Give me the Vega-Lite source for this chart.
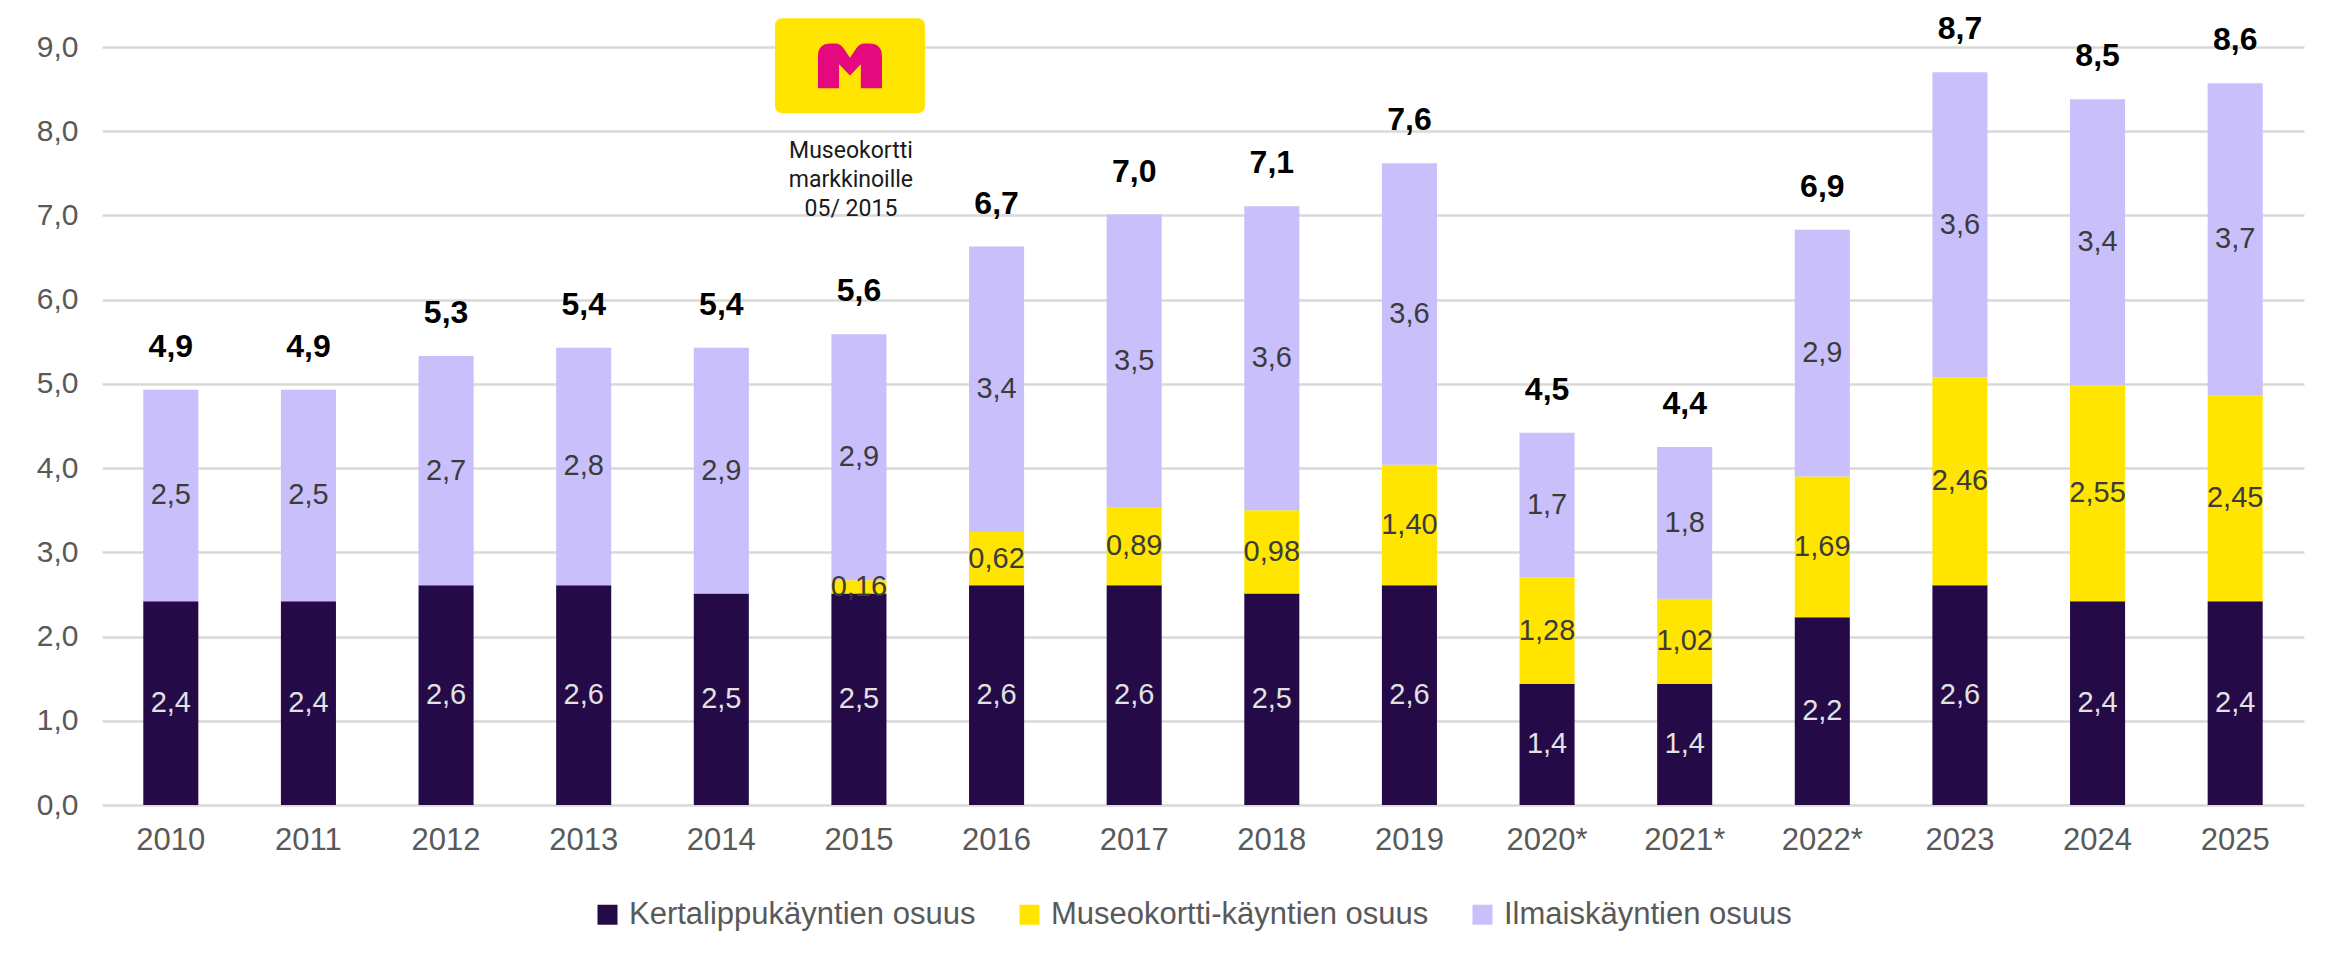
{
  "$schema": "https://vega.github.io/schema/vega-lite/v6.json",
  "width": 2202,
  "height": 758,
  "autosize": {"type": "none"},
  "padding": {"left": 102, "top": 47, "right": 42, "bottom": 157},
  "background": "white",
  "config": {"view": {"stroke": null}, "font": "Liberation Sans"},
  "datasets": {
    "parts": [
      {"year": "2010", "series": "Kertalippukäyntien osuus", "order": 1, "value": 2.42, "label": "2,4"},
      {"year": "2010", "series": "Ilmaiskäyntien osuus", "order": 3, "value": 2.51, "label": "2,5"},
      {"year": "2011", "series": "Kertalippukäyntien osuus", "order": 1, "value": 2.42, "label": "2,4"},
      {"year": "2011", "series": "Ilmaiskäyntien osuus", "order": 3, "value": 2.51, "label": "2,5"},
      {"year": "2012", "series": "Kertalippukäyntien osuus", "order": 1, "value": 2.61, "label": "2,6"},
      {"year": "2012", "series": "Ilmaiskäyntien osuus", "order": 3, "value": 2.72, "label": "2,7"},
      {"year": "2013", "series": "Kertalippukäyntien osuus", "order": 1, "value": 2.61, "label": "2,6"},
      {"year": "2013", "series": "Ilmaiskäyntien osuus", "order": 3, "value": 2.82, "label": "2,8"},
      {"year": "2014", "series": "Kertalippukäyntien osuus", "order": 1, "value": 2.51, "label": "2,5"},
      {"year": "2014", "series": "Ilmaiskäyntien osuus", "order": 3, "value": 2.92, "label": "2,9"},
      {"year": "2015", "series": "Kertalippukäyntien osuus", "order": 1, "value": 2.51, "label": "2,5"},
      {"year": "2015", "series": "Museokortti-käyntien osuus", "order": 2, "value": 0.16, "label": "0,16"},
      {"year": "2015", "series": "Ilmaiskäyntien osuus", "order": 3, "value": 2.92, "label": "2,9"},
      {"year": "2016", "series": "Kertalippukäyntien osuus", "order": 1, "value": 2.61, "label": "2,6"},
      {"year": "2016", "series": "Museokortti-käyntien osuus", "order": 2, "value": 0.63, "label": "0,62"},
      {"year": "2016", "series": "Ilmaiskäyntien osuus", "order": 3, "value": 3.39, "label": "3,4"},
      {"year": "2017", "series": "Kertalippukäyntien osuus", "order": 1, "value": 2.61, "label": "2,6"},
      {"year": "2017", "series": "Museokortti-käyntien osuus", "order": 2, "value": 0.92, "label": "0,89"},
      {"year": "2017", "series": "Ilmaiskäyntien osuus", "order": 3, "value": 3.48, "label": "3,5"},
      {"year": "2018", "series": "Kertalippukäyntien osuus", "order": 1, "value": 2.51, "label": "2,5"},
      {"year": "2018", "series": "Museokortti-käyntien osuus", "order": 2, "value": 0.99, "label": "0,98"},
      {"year": "2018", "series": "Ilmaiskäyntien osuus", "order": 3, "value": 3.61, "label": "3,6"},
      {"year": "2019", "series": "Kertalippukäyntien osuus", "order": 1, "value": 2.61, "label": "2,6"},
      {"year": "2019", "series": "Museokortti-käyntien osuus", "order": 2, "value": 1.43, "label": "1,40"},
      {"year": "2019", "series": "Ilmaiskäyntien osuus", "order": 3, "value": 3.58, "label": "3,6"},
      {"year": "2020*", "series": "Kertalippukäyntien osuus", "order": 1, "value": 1.44, "label": "1,4"},
      {"year": "2020*", "series": "Museokortti-käyntien osuus", "order": 2, "value": 1.26, "label": "1,28"},
      {"year": "2020*", "series": "Ilmaiskäyntien osuus", "order": 3, "value": 1.72, "label": "1,7"},
      {"year": "2021*", "series": "Kertalippukäyntien osuus", "order": 1, "value": 1.44, "label": "1,4"},
      {"year": "2021*", "series": "Museokortti-käyntien osuus", "order": 2, "value": 1.01, "label": "1,02"},
      {"year": "2021*", "series": "Ilmaiskäyntien osuus", "order": 3, "value": 1.80, "label": "1,8"},
      {"year": "2022*", "series": "Kertalippukäyntien osuus", "order": 1, "value": 2.23, "label": "2,2"},
      {"year": "2022*", "series": "Museokortti-käyntien osuus", "order": 2, "value": 1.67, "label": "1,69"},
      {"year": "2022*", "series": "Ilmaiskäyntien osuus", "order": 3, "value": 2.93, "label": "2,9"},
      {"year": "2023", "series": "Kertalippukäyntien osuus", "order": 1, "value": 2.61, "label": "2,6"},
      {"year": "2023", "series": "Museokortti-käyntien osuus", "order": 2, "value": 2.47, "label": "2,46"},
      {"year": "2023", "series": "Ilmaiskäyntien osuus", "order": 3, "value": 3.62, "label": "3,6"},
      {"year": "2024", "series": "Kertalippukäyntien osuus", "order": 1, "value": 2.42, "label": "2,4"},
      {"year": "2024", "series": "Museokortti-käyntien osuus", "order": 2, "value": 2.56, "label": "2,55"},
      {"year": "2024", "series": "Ilmaiskäyntien osuus", "order": 3, "value": 3.40, "label": "3,4"},
      {"year": "2025", "series": "Kertalippukäyntien osuus", "order": 1, "value": 2.42, "label": "2,4"},
      {"year": "2025", "series": "Museokortti-käyntien osuus", "order": 2, "value": 2.44, "label": "2,45"},
      {"year": "2025", "series": "Ilmaiskäyntien osuus", "order": 3, "value": 3.71, "label": "3,7"}
    ],
    "totals": [
      {"year": "2010", "label": "4,9"},
      {"year": "2011", "label": "4,9"},
      {"year": "2012", "label": "5,3"},
      {"year": "2013", "label": "5,4"},
      {"year": "2014", "label": "5,4"},
      {"year": "2015", "label": "5,6"},
      {"year": "2016", "label": "6,7"},
      {"year": "2017", "label": "7,0"},
      {"year": "2018", "label": "7,1"},
      {"year": "2019", "label": "7,6"},
      {"year": "2020*", "label": "4,5"},
      {"year": "2021*", "label": "4,4"},
      {"year": "2022*", "label": "6,9"},
      {"year": "2023", "label": "8,7"},
      {"year": "2024", "label": "8,5"},
      {"year": "2025", "label": "8,6"}
    ],
    "logo": [{"year": "2015", "y": 8.777}],
    "note": [{"year": "2015", "y": 7.68, "text": "Museokortti\nmarkkinoille\n05/ 2015"}]
  },
  "encoding": {
    "x": {
      "field": "year",
      "type": "nominal",
      "scale": {
        "domain": ["2010", "2011", "2012", "2013", "2014", "2015", "2016", "2017", "2018", "2019", "2020*", "2021*", "2022*", "2023", "2024", "2025"],
        "paddingInner": 0.6,
        "paddingOuter": 0.3
      },
      "axis": {
        "title": null,
        "labelAngle": 0,
        "labelFontSize": 31,
        "labelColor": "#595959",
        "labelPadding": 20,
        "ticks": false,
        "domain": false,
        "grid": false
      }
    }
  },
  "layer": [
    {
      "data": {"name": "parts"},
      "transform": [
        {"stack": "value", "groupby": ["year"], "sort": [{"field": "order", "order": "ascending"}], "as": ["v0", "v1"]}
      ],
      "mark": {"type": "bar"},
      "encoding": {
        "y": {
          "field": "v0",
          "type": "quantitative",
          "scale": {"domain": [0, 9], "nice": false},
          "axis": {
            "title": null,
            "values": [0, 1, 2, 3, 4, 5, 6, 7, 8, 9],
            "labelExpr": "replace(format(datum.value, '.1f'), '.', ',')",
            "labelFontSize": 30,
            "labelColor": "#595959",
            "labelPadding": 24,
            "ticks": false,
            "domain": false,
            "grid": true,
            "gridColor": "#d9d9d9",
            "gridWidth": 2.5
          }
        },
        "y2": {"field": "v1"},
        "color": {
          "field": "series",
          "type": "nominal",
          "scale": {
            "domain": ["Kertalippukäyntien osuus", "Museokortti-käyntien osuus", "Ilmaiskäyntien osuus"],
            "range": ["#250A48", "#FFE500", "#C8BFFB"]
          },
          "legend": {
            "title": null,
            "orient": "none",
            "legendX": 490,
            "legendY": 852,
            "direction": "horizontal",
            "symbolType": "square",
            "symbolSize": 400,
            "symbolStrokeWidth": 0,
            "labelFontSize": 31,
            "labelColor": "#595959",
            "labelLimit": 0,
            "labelOffset": 6,
            "columnPadding": 38
          }
        }
      }
    },
    {
      "data": {"name": "parts"},
      "transform": [
        {"stack": "value", "groupby": ["year"], "sort": [{"field": "order", "order": "ascending"}], "as": ["v0", "v1"]},
        {"calculate": "(datum.v0 + datum.v1) / 2", "as": "mid"}
      ],
      "mark": {"type": "text", "fontSize": 29, "baseline": "middle", "align": "center"},
      "encoding": {
        "y": {"field": "mid", "type": "quantitative"},
        "text": {"field": "label", "type": "nominal"},
        "color": {"condition": {"test": "datum.order === 1", "value": "#e2e2e2"}, "value": "#3b3b3b"}
      }
    },
    {
      "data": {"name": "parts"},
      "transform": [
        {"aggregate": [{"op": "sum", "field": "value", "as": "top"}], "groupby": ["year"]},
        {"lookup": "year", "from": {"data": {"name": "totals"}, "key": "year", "fields": ["label"]}}
      ],
      "mark": {"type": "text", "fontSize": 32, "fontWeight": "bold", "baseline": "alphabetic", "align": "center", "dy": -33, "color": "#000000"},
      "encoding": {
        "y": {"field": "top", "type": "quantitative"},
        "text": {"field": "label", "type": "nominal"}
      }
    },
    {
      "data": {"name": "logo"},
      "mark": {
        "type": "point",
        "filled": true,
        "opacity": 1,
        "color": "#FFE500",
        "strokeWidth": 0,
        "size": 22500,
        "xOffset": -9,
        "shape": "M -0.893 -0.633 L 0.893 -0.633 Q 1 -0.633 1 -0.526 L 1 0.526 Q 1 0.633 0.893 0.633 L -0.893 0.633 Q -1 0.633 -1 0.526 L -1 -0.526 Q -1 -0.633 -0.893 -0.633 Z"
      },
      "encoding": {"y": {"field": "y", "type": "quantitative"}}
    },
    {
      "data": {"name": "logo"},
      "mark": {
        "type": "point",
        "filled": true,
        "opacity": 1,
        "color": "#E5097F",
        "strokeWidth": 0,
        "size": 4096,
        "xOffset": -9,
        "shape": "M -1 0.7 L -1 -0.3 Q -1 -0.7 -0.6 -0.7 L -0.45 -0.7 Q -0.3 -0.7 -0.2 -0.55 L 0 -0.25 L 0.2 -0.55 Q 0.3 -0.7 0.45 -0.7 L 0.6 -0.7 Q 1 -0.7 1 -0.3 L 1 0.7 L 0.34 0.7 L 0.34 -0.05 L 0 0.3 L -0.34 -0.05 L -0.34 0.7 Z"
      },
      "encoding": {"y": {"field": "y", "type": "quantitative"}}
    },
    {
      "data": {"name": "note"},
      "mark": {"type": "text", "font": "Roboto", "fontSize": 23, "lineHeight": 29, "lineBreak": "\n", "align": "center", "baseline": "alphabetic", "dx": -8, "color": "#1a1a1a"},
      "encoding": {
        "y": {"field": "y", "type": "quantitative"},
        "text": {"field": "text", "type": "nominal"}
      }
    }
  ]
}
